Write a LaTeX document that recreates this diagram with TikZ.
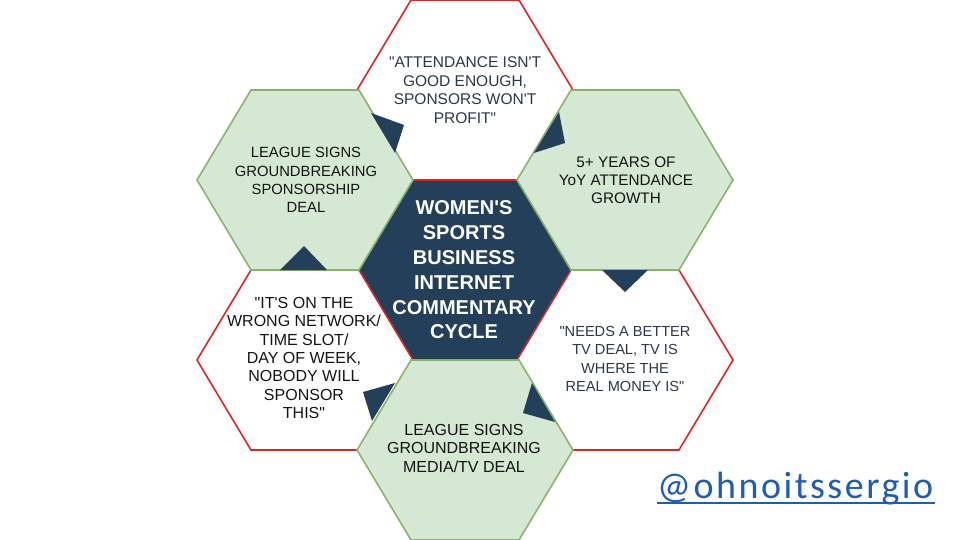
\documentclass[tikz,border=0pt]{standalone}
\usepackage{fontspec}
\setmainfont{Liberation Sans}
\newfontfamily\handlefont[LetterSpace=6.6]{Carlito}
\definecolor{navy}{RGB}{35,63,90}
\definecolor{hexgreen}{RGB}{213,232,212}
\definecolor{hexgreenline}{RGB}{137,178,106}
\definecolor{hexred}{RGB}{218,38,38}
\definecolor{txtslate}{RGB}{42,56,72}
\definecolor{txtdark}{RGB}{20,20,20}
\definecolor{handleblue}{RGB}{32,92,180}
\newcommand{\hexshape}[3]{\path[#1,shift={(#2,#3)}] (108,0) -- (54,-90) -- (-54,-90) -- (-108,0) -- (-54,90) -- (54,90) -- cycle;}
\newcommand{\qs}{\textquotesingle}
\newcommand{\qd}{\textquotedbl}
\tikzset{
  whitehex/.style={fill=white,draw=hexred,line width=1.6pt,line join=miter},
  greenhex/.style={fill=hexgreen,draw=hexgreenline,line width=1.6pt,line join=miter},
  centerhex/.style={fill=navy},
  arrowtri/.style={fill=navy},
  hextext/.style={align=center,inner sep=0pt},
}
\begin{document}
\begin{tikzpicture}[x=1pt,y=-1pt]
\useasboundingbox (0,0) rectangle (960,540);
\fill[white] (0,0) rectangle (960,540);
% centre hexagon
\hexshape{centerhex}{465}{270}
% white hexagons
\hexshape{whitehex}{465}{90}
\hexshape{whitehex}{305}{360}
\hexshape{whitehex}{625}{360}
% green hexagons
\hexshape{greenhex}{305}{180}
\hexshape{greenhex}{625}{180}
\hexshape{greenhex}{465}{450}
% cycle arrow triangles
\fill[arrowtri] (371,113) -- (395,153) -- (404,125) -- cycle;
\fill[arrowtri] (559,112) -- (534,153) -- (565,143) -- cycle;
\fill[arrowtri] (602,270) -- (648,270) -- (625,292) -- cycle;
\fill[arrowtri] (532,383) -- (555,422) -- (523,413) -- cycle;
\fill[arrowtri] (395,383) -- (372,421) -- (363,392) -- cycle;
\fill[arrowtri] (280,270) -- (327,270) -- (304,246) -- cycle;
% texts
\node[hextext,text=txtslate,font=\fontsize{15.5}{18.5}\selectfont] (ttop) at (465,90)
  {\qd ATTENDANCE ISN\qs T\\GOOD ENOUGH,\\SPONSORS WON\qs T\\PROFIT\qd};
\node[hextext,text=txtdark,font=\fontsize{14.8}{18.3}\selectfont] (ttl) at (306,180)
  {LEAGUE SIGNS\\GROUNDBREAKING\\SPONSORSHIP\\DEAL};
\node[hextext,text=txtdark,font=\fontsize{15.3}{18.2}\selectfont] (ttr) at (626,180)
  {5+ YEARS OF\\YoY ATTENDANCE\\GROWTH};
\node[hextext,text=white,font=\bfseries\fontsize{20}{24.8}\selectfont] (tc) at (464,270)
  {WOMEN\qs S\\SPORTS\\BUSINESS\\INTERNET\\COMMENTARY\\CYCLE};
\node[hextext,text=txtdark,font=\fontsize{16}{18.3}\selectfont] (tbl) at (304,358)
  {\qd IT\qs S ON THE\\WRONG NETWORK/\\TIME SLOT/\\DAY OF WEEK,\\NOBODY WILL\\SPONSOR\\THIS\qd};
\node[hextext,text=txtslate,font=\fontsize{14.6}{18.3}\selectfont] (tbr) at (625,359)
  {\qd NEEDS A BETTER\\TV DEAL, TV IS\\WHERE THE\\REAL MONEY IS\qd};
\node[hextext,text=txtdark,font=\fontsize{16}{18.5}\selectfont] (tb) at (464,448)
  {LEAGUE SIGNS\\GROUNDBREAKING\\MEDIA/TV DEAL};
% handle
\node[inner sep=0pt,anchor=base west,text=handleblue,font=\handlefont\fontsize{38}{40}\selectfont] (handle) at (657,498)
  {@ohnoitssergio};
\coordinate (ulstart) at (657,503);
\coordinate (ulend) at (935,503);
\draw[handleblue,line width=2.2pt] (ulstart) -- (ulend);
\end{tikzpicture}
\end{document}
